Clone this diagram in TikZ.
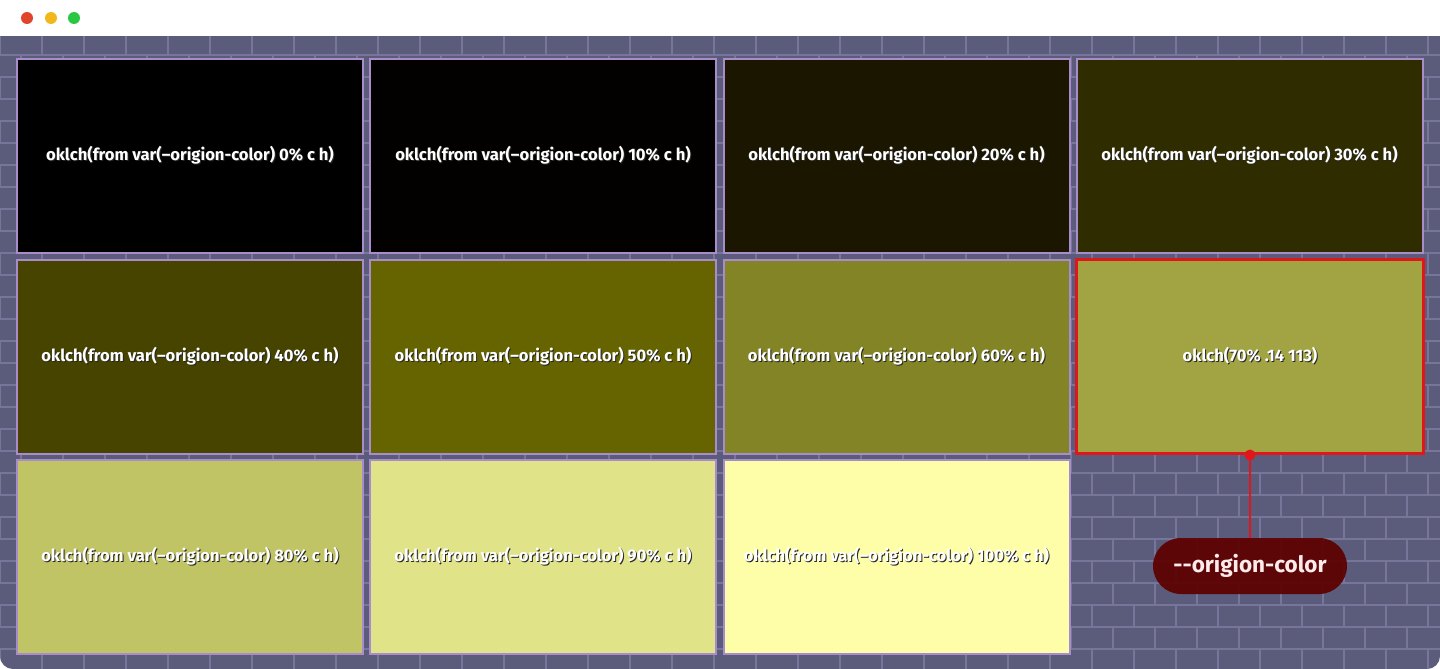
\documentclass[tikz,border=0pt]{standalone}
\usepackage{fontspec}
\setmainfont{Fira Sans}
\definecolor{brickbg}{HTML}{5B5B7B}
\definecolor{mortar}{HTML}{77769A}
\definecolor{cellborder}{HTML}{AA8CCB}
\definecolor{selred}{HTML}{E0161B}
\definecolor{pillred}{HTML}{5E0000}
\definecolor{dotred}{HTML}{E0442A}
\definecolor{dotyellow}{HTML}{F2B81A}
\definecolor{dotgreen}{HTML}{2AC840}
\definecolor{l0}{HTML}{000000}
\definecolor{l1}{HTML}{020100}
\definecolor{l2}{HTML}{1B1600}
\definecolor{l3}{HTML}{2F2C00}
\definecolor{l4}{HTML}{474400}
\definecolor{l5}{HTML}{656400}
\definecolor{l6}{HTML}{838426}
\definecolor{l7}{HTML}{A2A444}
\definecolor{l8}{HTML}{C1C464}
\definecolor{l9}{HTML}{E0E388}
\definecolor{l10}{HTML}{FDFEA7}
\newcommand{\shtext}[1]{\rlap{\kern1pt\raisebox{-1pt}{\color{black!85}#1}}#1}
\tikzset{
  cellbox/.style={draw=cellborder, line width=2pt, minimum width=346pt, minimum height=194pt,
    inner sep=0pt, text=white, font=\fontsize{16.6}{18}\selectfont\bfseries},
  selbox/.style={cellbox, draw=selred, line width=3pt, minimum width=347pt, minimum height=194pt},
  pillbox/.style={fill=pillred, fill opacity=0.93, text opacity=1, rounded corners=28pt,
    minimum width=194pt, minimum height=56pt, inner sep=0pt, text=white!92!red,
    font=\fontsize{22.5}{25}\selectfont\bfseries},
  linkline/.style={draw=selred, line width=2pt},
  wdot/.style={circle, inner sep=0pt, minimum size=12pt}
}
\begin{document}
\begin{tikzpicture}[x=1pt,y=-1pt]
\useasboundingbox (0,0) rectangle (1440,669);
\fill[white] (0,0) rectangle (1440,669);
\begin{scope}
  \clip[rounded corners=13pt] (0,0) rectangle (1440,669);
  \fill[brickbg] (0,0) rectangle (1440,669);
  \foreach \k in {0,...,28}{
    \pgfmathsetmacro{\ytop}{33+22*\k}
    \pgfmathsetmacro{\ybot}{55+22*\k}
    \pgfmathsetmacro{\off}{mod(\k,2)*21}
    \draw[mortar, line width=1.3pt] (0,\ybot) -- (1440,\ybot);
    \foreach \j in {0,...,35}{
      \draw[mortar, line width=1.3pt] ({\off+42*\j},\ytop) -- ({\off+42*\j},\ybot);
    }
  }
\end{scope}
\fill[white] (0,0) rectangle (1440,36.5);
\node[wdot, fill=dotred] (d1) at (27,18) {};
\node[wdot, fill=dotyellow] (d2) at (51,18) {};
\node[wdot, fill=dotgreen] (d3) at (74,18) {};

\node[cellbox, fill=l0] (c0) at (190,156) {\shtext{oklch(from var(--origion-color) 0\% c h)}};
\node[cellbox, fill=l1] (c1) at (543,156) {\shtext{oklch(from var(--origion-color) 10\% c h)}};
\node[cellbox, fill=l2] (c2) at (896.5,156) {\shtext{oklch(from var(--origion-color) 20\% c h)}};
\node[cellbox, fill=l3] (c3) at (1249.5,156) {\shtext{oklch(from var(--origion-color) 30\% c h)}};
\node[cellbox, fill=l4] (c4) at (190,356.5) {\shtext{oklch(from var(--origion-color) 40\% c h)}};
\node[cellbox, fill=l5] (c5) at (543,356.5) {\shtext{oklch(from var(--origion-color) 50\% c h)}};
\node[cellbox, fill=l6] (c6) at (896.5,356.5) {\shtext{oklch(from var(--origion-color) 60\% c h)}};
\node[selbox, fill=l7] (c7) at (1250,356.5) {\shtext{oklch(70\% .14 113)}};
\node[cellbox, fill=l8] (c8) at (190,556.5) {\shtext{oklch(from var(--origion-color) 80\% c h)}};
\node[cellbox, fill=l9] (c9) at (543,556.5) {\shtext{oklch(from var(--origion-color) 90\% c h)}};
\node[cellbox, fill=l10] (c10) at (896.5,556.5) {\shtext{oklch(from var(--origion-color) 100\% c h)}};

\node[pillbox] (pill) at (1250,566) {-{}-origion-color};
\draw[linkline] (c7.south) -- (pill.north);
\fill[selred] (c7.south) circle (5.5);
\end{tikzpicture}
\end{document}
